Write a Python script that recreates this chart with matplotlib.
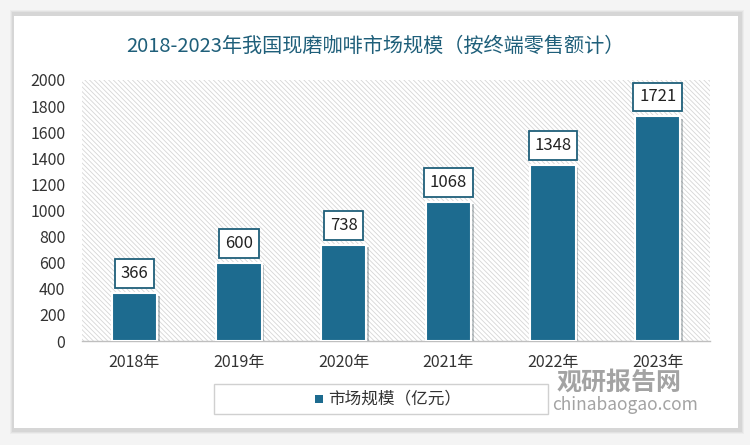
import matplotlib
matplotlib.use("Agg")
import matplotlib.pyplot as plt
from matplotlib.patches import Rectangle
import matplotlib.patheffects as pe

plt.rcParams['font.family'] = ['Noto Sans CJK SC', 'DejaVu Sans']
plt.rcParams['hatch.linewidth'] = 0.6

categories = ['2018年', '2019年', '2020年', '2021年', '2022年', '2023年']
values = [366, 600, 738, 1068, 1348, 1721]
title = '2018-2023年我国现磨咖啡市场规模（按终端零售额计）'
legend_label = '市场规模（亿元）'
yticks = [0, 200, 400, 600, 800, 1000, 1200, 1400, 1600, 1800, 2000]

bar_color = '#1d6b8f'
W, H = 750, 445
fig = plt.figure(figsize=(7.5, 4.45), dpi=100)
fig.patch.set_facecolor('#f4f4f4')

# card with shadow
for i, a in enumerate([0.03, 0.04, 0.05]):
    d = 4 - i
    fig.patches.append(Rectangle(((14 - d) / W, 1 - (430 + d) / H), (726 + 2 * d) / W, (416 + 2 * d) / H,
                                 transform=fig.transFigure, facecolor='black', alpha=a, edgecolor='none', zorder=-3))
fig.patches.append(Rectangle((14 / W, 1 - 428 / H), 724 / W, 412 / H, transform=fig.transFigure,
                             facecolor='white', edgecolor='none', zorder=-2))

ax = fig.add_axes([82 / W, 1 - 341 / H, 628 / W, 261 / H])
ax.set_zorder(1)
ax.set_facecolor('none')
ax.add_patch(Rectangle((0, 0), 1, 1, transform=ax.transAxes, facecolor='white',
                       edgecolor='#d6d6d6', hatch='\\\\\\\\\\\\\\', linewidth=0, zorder=0))

x = list(range(len(categories)))
bars = ax.bar(x, values, width=0.43, color=bar_color, edgecolor='white', linewidth=1.5, zorder=3,
              path_effects=[pe.SimplePatchShadow(offset=(2, -2), alpha=0.25), pe.Normal()])
for xi, v in zip(x, values):
    ax.annotate(str(v), (xi, v), xytext=(0, 14), textcoords='offset points', ha='center', va='center',
                fontsize=12, color='#222222', zorder=5,
                bbox=dict(boxstyle='square,pad=0.35', facecolor='white', edgecolor='#1f5f7a', linewidth=1.3))

ax.set_xlim(-0.5, len(categories) - 0.5)
ax.set_ylim(0, 2000)
ax.set_yticks(yticks)
ax.set_yticklabels([str(t) for t in yticks], fontsize=11.5, color='#333333')
ax.set_xticks(x)
ax.set_xticklabels(categories, fontsize=11.5, color='#333333')
ax.tick_params(length=0, pad=12)
ax.tick_params(axis='x', pad=9)
for s in ['top', 'right', 'left']:
    ax.spines[s].set_visible(False)
ax.spines['bottom'].set_color('#bfbfbf')
ax.spines['bottom'].set_linewidth(1)

fig.text(375 / W, 1 - 46 / H, title, ha='center', va='center', fontsize=14.5, color='#1f5f7a')

# legend box
fig.patches.append(Rectangle((214 / W, 1 - 414 / H), 334 / W, 30 / H, transform=fig.transFigure,
                             facecolor='white', edgecolor='#d0d0d0', linewidth=1, zorder=2))
fig.patches.append(Rectangle((315 / W, 1 - 403 / H), 8 / W, 8 / H, transform=fig.transFigure,
                             facecolor=bar_color, edgecolor='none', zorder=3))
fig.text(328 / W, 1 - 399 / H, legend_label, ha='left', va='center', fontsize=12, color='#333333', zorder=3)

# watermark
fig.text(557 / W, 1 - 383 / H, '观研报告网', ha='left', va='center', fontsize=18, fontweight='bold',
         color='#8c8c8c', alpha=0.8, zorder=4)
fig.text(552 / W, 1 - 405 / H, 'chinabaogao.com', ha='left', va='center', fontsize=12.5,
         color='#8c8c8c', alpha=0.8, zorder=4)

fig.savefig('out.png', dpi=100, facecolor=fig.get_facecolor())
